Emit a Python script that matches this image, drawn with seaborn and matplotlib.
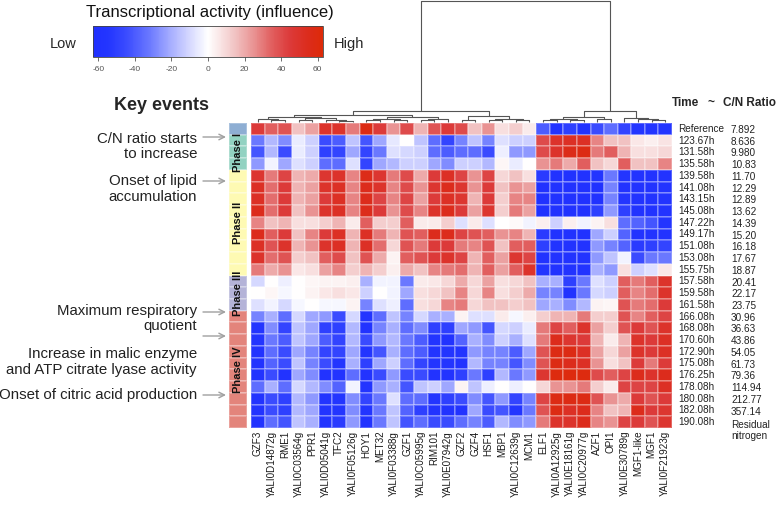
import numpy as np
import pandas as pd
import matplotlib
matplotlib.use("Agg")
import matplotlib.pyplot as plt
import matplotlib.transforms as mtrans
from matplotlib.colors import LinearSegmentedColormap, ListedColormap
import seaborn as sns

sns.set_style("white")
plt.rcParams["font.family"] = ["Liberation Sans", "DejaVu Sans"]

# ---------------- data ----------------
genes = ["GZF3", "YALI0D14872g", "RME1", "YALI0C03564g", "PPR1", "YALI0D05041g",
         "TFC2", "YALI0F05126g", "HOY1", "MET32", "YALI0F03388g", "GZF1",
         "YALI0C05995g", "RIM101", "YALI0E07942g", "GZF2", "GZF4", "HSF1", "MBP1",
         "YALI0C12639g", "MCM1", "ELF1", "YALI0A12925g", "YALI0E18161g",
         "YALI0C20977g", "AZF1", "OPI1", "YALI0E30789g", "MGF1-like", "MGF1",
         "YALI0F21923g"]

times = ["Reference", "123.67h", "131.58h", "135.58h", "139.58h", "141.08h", "143.15h",
         "145.08h", "147.22h", "149.17h", "151.08h", "153.08h", "155.75h", "157.58h",
         "159.58h", "161.58h", "166.08h", "168.08h", "170.60h", "172.90h", "175.08h",
         "176.25h", "178.08h", "180.08h", "182.08h", "190.08h"]

cn_ratio = ["7.892", "8.636", "9.980", "10.83", "11.70", "12.29", "12.89", "13.62",
            "14.39", "15.20", "16.18", "17.67", "18.87", "20.41", "22.17", "23.75",
            "30.96", "36.63", "43.86", "54.05", "61.73", "79.36", "114.94", "212.77",
            "357.14", "Residual\nnitrogen"]

cbar_ticks = [-60, -40, -20, 0, 20, 40, 60]

reference_row = [
    [45, 35, 38, 15, 22, 50, 50, 30, 58, 45, 25, 40, 18, 38, 45, 40,
     15, 25, 8, 12, 5, -40, -58, -50, -58, -45, -35, -48, -55, -55, -55],
]
phase1_rows = [
    [-32, -18, -28, -5, -12, -45, -40, -15, -42, -22, -6, 0, -15, -35, -48, -30,
     -15, -30, -8, -12, -12, 40, 50, 52, 52, 28, 15, 15, 6, 4, 7],
    [-42, -18, -45, -5, -12, -50, -48, -22, -48, -32, -8, -10, -12, -35, -40, -35,
     -35, -45, -4, -25, -25, 40, 50, 56, 58, 30, 35, 18, 8, 8, 10],
    [-25, -3, -22, -8, -12, -35, -35, -8, -48, -22, -18, -12, -12, -22, -28, -12,
     -12, -18, 2, -5, 0, 25, 30, 20, 35, 15, 10, 35, 15, 15, 28],
]
phase2_rows = [
    [48, 30, 42, 18, 20, 48, 50, 28, 56, 48, 30, 40, 20, 45, 52, 42,
     25, 42, 10, 15, 8, -52, -60, -60, -60, -55, -32, -55, -58, -58, -58],
    [52, 32, 45, 18, 22, 50, 52, 28, 55, 50, 28, 40, 25, 48, 55, 48,
     25, 45, 15, 25, 22, -60, -60, -60, -60, -60, -30, -58, -58, -58, -58],
    [52, 32, 45, 18, 22, 45, 52, 28, 55, 42, 28, 42, 22, 45, 52, 48,
     18, 45, 12, 28, 28, -60, -60, -60, -60, -60, -30, -55, -58, -58, -58],
    [55, 32, 45, 15, 25, 50, 52, 28, 55, 45, 25, 40, 28, 50, 55, 45,
     22, 48, 12, 30, 22, -60, -60, -60, -60, -50, -25, -50, -58, -58, -58],
    [28, 15, 18, 8, 8, 12, 18, 5, 35, 12, 12, 35, 5, 5, 12, -8,
     5, -8, 0, 1, -3, 4, -12, 4, -3, 3, 8, -35, -38, -42, -55],
    [55, 35, 45, 15, 28, 45, 52, 18, 52, 30, 18, 38, 35, 55, 55, 42,
     38, 35, 25, 28, 18, -52, -60, -60, -60, -22, -12, -38, -58, -58, -58],
    [52, 38, 50, 18, 25, 50, 52, 18, 52, 32, 10, 38, 30, 45, 45, 30,
     28, 38, 15, 35, 35, -50, -58, -58, -58, -25, -30, -38, -52, -50, -48],
    [50, 32, 38, 12, 15, 35, 40, 15, 38, 20, 3, 35, 38, 45, 50, 42,
     18, 35, 22, 48, 42, -58, -58, -58, -58, -25, -15, -3, -45, -32, -32],
    [30, 20, 25, 6, 8, 22, 28, 12, 18, 12, 4, 20, 15, 28, 30, 32,
     18, 35, 22, 35, 50, -55, -58, -58, -58, -20, -25, 8, -12, -8, 6],
]
phase3_rows = [
    [-10, 0, -4, 0, 2, 3, 3, 4, -20, -3, -3, -32, 5, 6, 10, 20,
     10, 22, 8, 10, 15, -20, -20, -50, -32, -8, -12, 35, 30, 35, 50],
    [0, 2, -2, 0, 3, 6, 8, 6, -12, 0, -3, -22, 8, 10, 15, 28,
     10, 28, 8, 12, 20, -30, -30, -58, -32, -10, -12, 35, 28, 32, 50],
    [-8, -3, -10, -2, 0, -2, -2, 3, -30, -8, -4, -35, 8, 10, 28, 30,
     10, 15, 15, 12, 15, -22, -20, -28, -18, 3, 2, 38, 30, 32, 45],
]
phase4_rows = [
    [-30, -20, -35, -10, -22, -25, -45, -10, -55, -35, -15, -30, -10, -20, -20, 3,
     -8, -8, 5, -2, 4, 12, 18, 18, 30, 12, 12, 38, 28, 35, 42],
    [-55, -28, -48, -15, -22, -50, -50, -18, -58, -30, -20, -35, -28, -50, -50, -22,
     -25, -42, -10, -12, -5, 30, 42, 35, 50, 22, 12, 38, 45, 38, 50],
    [-55, -32, -40, -15, -22, -40, -48, -18, -45, -25, -18, -32, -40, -55, -58, -38,
     -20, -28, -12, -20, -8, 30, 55, 48, 45, 18, 5, 18, 50, 45, 52],
    [-58, -35, -45, -22, -30, -48, -48, -22, -55, -42, -20, -35, -40, -55, -55, -55,
     -25, -30, -30, -40, -22, 38, 58, 58, 52, 22, 10, 22, 50, 45, 52],
    [-58, -38, -45, -15, -30, -45, -55, -20, -50, -22, -12, -35, -48, -55, -55, -58,
     -18, -30, -30, -42, -28, 38, 58, 55, 52, 25, 8, 15, 45, 30, 45],
    [-58, -45, -58, -22, -28, -58, -58, -35, -58, -45, -25, -45, -45, -58, -58, -50,
     -32, -50, -18, -32, -25, 48, 60, 60, 60, 40, 35, 42, 55, 50, 55],
    [-35, -20, -35, -10, -18, -28, -38, -3, -55, -25, -20, -42, -15, -12, -22, 3,
     -15, -4, 0, -4, 0, 10, 25, 25, 30, 12, 5, 42, 42, 42, 52],
    [-58, -45, -50, -18, -25, -55, -55, -28, -48, -32, -8, -35, -35, -55, -50, -45,
     -28, -42, -25, -48, -30, 42, 58, 58, 58, 38, 25, 20, 45, 38, 45],
    [-58, -45, -50, -18, -22, -55, -55, -28, -55, -32, -15, -38, -50, -58, -58, -58,
     -22, -45, -42, -55, -32, 38, 58, 52, 55, 28, 15, 18, 55, 45, 48],
    [-58, -35, -42, -15, -20, -55, -52, -25, -58, -32, -15, -42, -35, -45, -45, -35,
     -30, -40, -18, -28, -25, 30, 50, 50, 55, 28, 25, 42, 45, 38, 48],
]

phase_names = ["", "Phase I", "Phase II", "Phase III", "Phase IV"]
phase_colors = ["#8eaed3", "#92d2c1", "#fefab3", "#b4b3d8", "#e3847b"]
row_blocks = [reference_row, phase1_rows, phase2_rows, phase3_rows, phase4_rows]

# column dendrogram: (left, right, height); leaves are column indices
col_tree = (
    (
        (
            ((0, (1, 2, 1.2), 2.2), ((3, 4, 1.4), (5, (6, 7, 0.8), 1.6), 2.8), 4.0),
            (((8, 9, 1.0), (10, 11, 1.5), 2.4), ((12, 13, 1.1), 14, 2.0), 3.3),
            5.5),
        ((15, 16, 1.6), ((17, 18, 1.0), (19, 20, 1.3), 2.2), 4.2),
        9.0),
    (
        (((21, 22, 1.0), (23, 24, 1.2), 2.3), (25, 26, 1.8), 3.6),
        (27, (28, (29, 30, 1.0), 1.9), 2.8),
        9.0),
    99.3)

events = [
    ("C/N ratio starts\nto increase", 146.5, 137),
    ("Onset of lipid\naccumulation", 189, 181),
    ("Maximum respiratory\nquotient", 318.5, 312),
    ("Increase in malic enzyme\nand ATP citrate lyase activity", 362, 336),
    ("Onset of citric acid production", 395, 395),
]

# ---------------- build ----------------
rows = [r for block in row_blocks for r in block]
phase_ids = [k for k, block in enumerate(row_blocks) for _ in block]
df = pd.DataFrame(rows, index=times, columns=genes)

W, H = 777, 509
fig = plt.figure(figsize=(W / 100, H / 100), dpi=100)


def box(l, t, r, b):
    return [l / W, (H - b) / H, (r - l) / W, (b - t) / H]


ax = fig.add_axes(box(251, 123, 672, 428))
cax = fig.add_axes(box(93, 26, 323, 57))
axp = fig.add_axes(box(229, 123, 247, 428))
axd = fig.add_axes(box(251, 0, 672, 121.5))

vmin, vmax = -63, 63
nodes = [(-63, "#2030ff"), (-55, "#2335ff"), (-45, "#3a4bff"), (-32, "#6b79ff"),
         (-20, "#a9b0ff"), (-8, "#dfe1ff"), (0, "#ffffff"), (8, "#f8e0e0"),
         (15, "#f1c2c2"), (25, "#e99393"), (35, "#e15f5f"), (45, "#dc3a3a"),
         (55, "#dc2c1c"), (63, "#dd2a08")]
cmap = LinearSegmentedColormap.from_list(
    "act", [((v - vmin) / (vmax - vmin), c) for v, c in nodes])

sns.heatmap(df, ax=ax, cmap=cmap, vmin=vmin, vmax=vmax, cbar_ax=cax,
            cbar_kws={"orientation": "horizontal", "ticks": cbar_ticks},
            xticklabels=True, yticklabels=False,
            linewidths=0.12, linecolor=(1, 1, 1, 0.25))
ax.set_xlabel("")
ax.set_ylabel("")
ax.set_xticklabels(genes, rotation=90, fontsize=7.1, color="#1a1a1a")
ax.tick_params(axis="x", length=0, pad=2)

cbar = ax.collections[0].colorbar
cbar.set_ticks(cbar_ticks, labels=[str(t) for t in cbar_ticks])
cbar.ax.tick_params(labelsize=6, colors="#555555", length=3, width=0.6)
cbar.outline.set_linewidth(0.6)
cbar.outline.set_edgecolor("#444444")

# right-hand row labels
tr = mtrans.blended_transform_factory(ax.transAxes, ax.transData)
for i, (t, c) in enumerate(zip(times, cn_ratio)):
    ax.text(1.0143, i + 0.5, t, transform=tr, ha="left", va="center",
            fontsize=7.2, color="#222222")
    dy = 0.7 if "\n" in c else 0.1
    ax.text(1.140, i + 0.5 + dy, c, transform=tr, ha="left", va="center",
            fontsize=7.2, color="#222222", linespacing=1.1)

fig.text(672 / W, 1 - 103 / H, "Time", fontsize=8.5, fontweight="bold",
         ha="left", va="center")
fig.text(707 / W, 1 - 103 / H, "~", fontsize=8.5, fontweight="bold",
         ha="left", va="center")
fig.text(723 / W, 1 - 103 / H, "C/N Ratio", fontsize=8.5, fontweight="bold",
         ha="left", va="center")

# phase bar
sns.heatmap(np.array(phase_ids)[:, None], ax=axp,
            cmap=ListedColormap(phase_colors), vmin=-0.5, vmax=4.5,
            cbar=False, xticklabels=False, yticklabels=False,
            linewidths=0.12, linecolor=(1, 1, 1, 0.25))
trp = mtrans.blended_transform_factory(axp.transAxes, axp.transData)
for k, name in enumerate(phase_names):
    idx = [i for i, p in enumerate(phase_ids) if p == k]
    if not name:
        continue
    centre = (idx[0] + idx[-1] + 1) / 2
    axp.text(0.5, centre, name, transform=trp, rotation=90, ha="center",
             va="center", fontsize=8, fontweight="bold", color="#111111")

# dendrogram
def draw(node):
    if isinstance(node, int):
        return node + 0.5, 0.0
    left, right, h = node
    xl, hl = draw(left)
    xr, hr = draw(right)
    axd.plot([xl, xl, xr, xr], [hl, h, h, hr], color="#555555", lw=0.8,
             solid_capstyle="butt", clip_on=False)
    return (xl + xr) / 2, h


draw(col_tree)
axd.set_xlim(0, len(genes))
axd.set_ylim(0, 100)
axd.axis("off")

# colour bar texts
fig.text(210 / W, 1 - 12 / H, "Transcriptional activity (influence)",
         fontsize=12, ha="center", va="center", color="#111111")
fig.text(63 / W, 1 - 44 / H, "Low", fontsize=10.5, ha="center", va="center")
fig.text(349 / W, 1 - 44 / H, "High", fontsize=10.5, ha="center", va="center")

# key events
fig.text(162 / W, 1 - 106 / H, "Key events", fontsize=13, fontweight="bold",
         ha="center", va="center")
for label, ty, ay in events:
    fig.text(197 / W, 1 - ty / H, label, fontsize=10.8, ha="right", va="center",
             multialignment="right", linespacing=1.15, color="#222222")
    ax.annotate("", xy=(226 / W, 1 - ay / H), xytext=(203 / W, 1 - ay / H),
                xycoords="figure fraction", textcoords="figure fraction",
                arrowprops=dict(arrowstyle="->", color="#a0a0a0", lw=1.0,
                                shrinkA=0, shrinkB=0),
                annotation_clip=False)

fig.savefig("out.png", dpi=100, facecolor="white")
